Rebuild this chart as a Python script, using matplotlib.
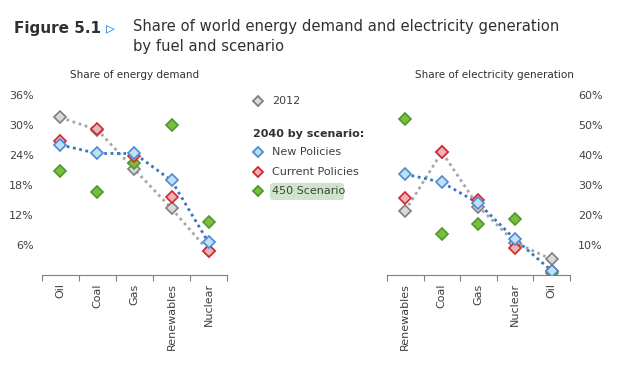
import numpy as np
import matplotlib.pyplot as plt
from matplotlib.patches import FancyBboxPatch

# share of energy demand (%)
demand_fuels = ["Oil", "Coal", "Gas", "Renewables", "Nuclear"]
demand_2012 = [31.5, 29.0, 21.1, 13.3, 4.8]
demand_new = [26.0, 24.3, 24.3, 18.9, 6.5]
demand_current = [26.7, 29.1, 23.7, 15.5, 4.7]
demand_450 = [20.7, 16.5, 22.3, 29.9, 10.5]

# share of electricity generation (%)
elec_fuels = ["Renewables", "Coal", "Gas", "Nuclear", "Oil"]
elec_2012 = [21.4, 41.0, 22.8, 10.8, 5.2]
elec_new = [33.6, 30.9, 23.9, 11.9, 1.4]
elec_current = [25.6, 40.9, 25.0, 8.9, 1.2]
elec_450 = [51.9, 13.6, 16.9, 18.7, 0.8]

demand_ticks = [6, 12, 18, 24, 30, 36]
elec_ticks = [10, 20, 30, 40, 50, 60]

styles = {
    "2012": dict(mec="#7f7f7f", mfc="#d9d9d9"),
    "new": dict(mec="#4a8bd6", mfc="#bfe1f6"),
    "current": dict(mec="#d8262e", mfc="#e8b4b6"),
    "450": dict(mec="#4b9a2b", mfc="#7dbd3e"),
}
txt = "#404040"

fig = plt.figure(figsize=(6.35, 3.71), dpi=100)
fig.patch.set_facecolor("white")


def panel(rect, fuels, v12, vnew, vcur, v450, ticks, right):
    ax = fig.add_axes(rect)
    x = np.arange(len(fuels))
    ax.plot(x, v12, ls=(0, (1, 1.3)), color="#a6a6a6", lw=2, zorder=1)
    ax.plot(x, vnew, ls=(0, (1, 1.3)), color="#3b73c4", lw=2, zorder=1)
    for vals, key in [(v12, "2012"), (v450, "450"), (vcur, "current"), (vnew, "new")]:
        ax.plot(x, vals, ls="none", marker="D", ms=6.5, mew=1.2, zorder=3, **styles[key])
    ax.set_xlim(-0.5, len(fuels) - 0.5)
    ax.set_ylim(0, ticks[-1])
    ax.set_yticks(ticks)
    ax.set_yticklabels([f"{t}%" for t in ticks], fontsize=8, color=txt)
    ax.tick_params(axis="y", length=0, pad=6)
    if right:
        ax.yaxis.tick_right()
    ax.set_xticks(np.arange(-0.5, len(fuels)), minor=False)
    ax.set_xticklabels([])
    ax.set_xticks(x, minor=True)
    ax.set_xticklabels(fuels, minor=True, rotation=90, fontsize=8, color=txt)
    ax.tick_params(axis="x", which="major", length=4, color="#808080", direction="out")
    ax.tick_params(axis="x", which="minor", length=0, pad=6)
    for s in ["top", "left", "right"]:
        ax.spines[s].set_visible(False)
    ax.spines["bottom"].set_color("#808080")
    ax.patch.set_alpha(0)
    for t in ax.get_yticklabels():
        t.set_color(txt)
    return ax


ax1 = panel([0.0661, 0.2588, 0.2914, 0.4852], demand_fuels, demand_2012, demand_new,
            demand_current, demand_450, demand_ticks, False)
ax2 = panel([0.6094, 0.2588, 0.2882, 0.4852], elec_fuels, elec_2012, elec_new,
            elec_current, elec_450, elec_ticks, True)

# titles
fig.text(14 / 635, 1 - 28 / 371, "Figure 5.1", fontsize=11, fontweight="bold", color="#303030", va="center")
fig.text(106 / 635, 1 - 28 / 371, "\u25b9", fontsize=13, color="#4a9be0", va="center")
fig.text(133 / 635, 1 - 27 / 371, "Share of world energy demand and electricity generation",
         fontsize=10.6, color="#303030", va="center")
fig.text(133 / 635, 1 - 47 / 371, "by fuel and scenario", fontsize=10.6, color="#303030", va="center")
fig.text(135 / 635, 1 - 75 / 371, "Share of energy demand", fontsize=7.5, color="#303030",
         ha="center", va="center")
fig.text(494 / 635, 1 - 75 / 371, "Share of electricity generation", fontsize=7.5, color="#303030",
         ha="center", va="center")

# legend
leg = fig.add_axes([0, 0, 1, 1])
leg.set_xlim(0, 635)
leg.set_ylim(371, 0)
leg.axis("off")
leg.add_patch(FancyBboxPatch((270, 183), 74, 17, boxstyle="round,pad=0,rounding_size=3",
                             fc="#cfe5c9", ec="none"))
entries = [(101, "2012", "2012"), (152, "new", "New Policies"),
           (172, "current", "Current Policies"), (191, "450", "450 Scenario")]
for y, key, label in entries:
    leg.plot(258, y, ls="none", marker="D", ms=5.5, mew=1.3, **styles[key])
    leg.text(272, y, label, fontsize=8, color=txt, va="center")
leg.text(253, 134, "2040 by scenario:", fontsize=8, fontweight="bold", color="#303030", va="center")

fig.savefig("out.png", dpi=100)
